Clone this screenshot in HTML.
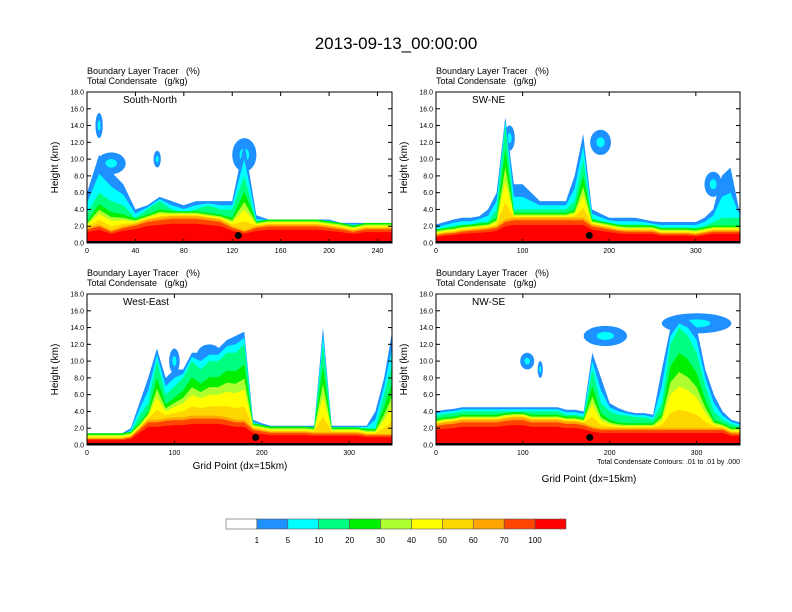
<!DOCTYPE html>
<html><head><meta charset="utf-8"><style>
body{margin:0;background:#fff}
svg{display:block;font-family:"Liberation Sans",sans-serif}
text{white-space:pre}
</style></head><body>
<svg id="c" width="792" height="612" viewBox="0 0 792 612">
<text x="396" y="49" font-size="17" text-anchor="middle">2013-09-13_00:00:00</text>
</svg>
<script>
const NS="http://www.w3.org/2000/svg";
const svg=document.getElementById('c');
const colors=["#ffffff","#1e90ff","#00ffff","#00ff80","#00ee00","#adff2f","#ffff00","#ffd700","#ffa500","#ff4500","#ff0000"];
const cbLabels=["1","5","10","20","30","40","50","60","70","100"];
const yTicks=[0,2,4,6,8,10,12,14,16,18];
const panelNames=["South-North","SW-NE","West-East","NW-SE"];
const xMaxes=[252,351,349,350];
const xTickSets=[[0,40,80,120,160,200,240],[0,100,200,300],[0,100,200,300],[0,100,200,300]];
const markerX=[125,177,193,177];
const red1=[1.8,2.2,1.5,2,2.3,2.8,3,3.2,3.2,3.2,3,2.8,2,1.5,2,2.2,2.2,2.2,2.2,2.2,2,1.8,1.5,1.8,1.8,1.8];
const green1=[3.5,6,5,4.5,3,4,5,4,3.6,4,4.5,4,4,8,2.4,2.6,2.6,2.5,2.5,2.5,2.5,2.2,2,2.2,2.2,2.2];
const blue1=[6,10.5,8.5,7,4,4.5,5.5,5,4.5,5,5,5,5,12,3.3,2.8,2.8,2.8,2.8,2.8,2.8,2.4,2.4,2.4,2.3,2.3];
const red2=[1,1.2,1.3,1.5,1.6,1.7,1.8,2,2.8,3,3,3,3,3,3,3,3,3,2.2,2,1.8,1.6,1.5,1.5,1.5,1.5,1.2,1.2,1.2,1.2,1.1,1.3,1.5,1.5,1.5,1.5];
const green2=[1.5,1.8,2,2.2,2.2,2.5,2.5,4,14,4,4,4,4,4,4,4,5,10,3,2.6,2.4,2.2,2.2,2.2,2.2,2,1.8,1.8,1.8,1.8,1.8,2,2.5,3,3,3];
const blue2=[2.2,2.5,2.8,3,3,3.2,4,6,15,7,7,6,5,5,5,5,8,13,4,3.5,3,3,3,3,2.8,2.6,2.5,2.5,2.5,2.5,2.5,3,4,8,9,4];
const red3=[0.8,0.8,0.8,0.8,0.8,1,2,3,3,3.2,3.3,3.3,3.5,3.5,3.5,3.5,3.3,3,3,2,1.8,1.6,1.6,1.6,1.6,1.6,1.5,1.5,1.5,1.5,1.5,1.5,1.3,1.3,1.3,1.3];
const green3=[1,1,1,1,1,1.5,3.5,5,10,6,7,8,10,9,10,10,11,11,12,2.5,2.2,2,2,2,2,2,2,12,2,2,2,2,2,2,6,10];
const blue3=[1.4,1.4,1.4,1.4,1.4,2,5,8,11.5,8,9,9,11,11,11.5,11.5,12.5,13,13.5,3,2.6,2.3,2.3,2.3,2.3,2.3,2.3,14,2.3,2.3,2.3,2.3,2.3,4,8,14];
const red4=[2.5,2.7,2.8,3,3,3,3,3,3.2,3.3,3.3,3,3,3,3,2.8,2.8,2.6,2.2,2,2,2,2,2,2,2,2,2,2,2,2,2,2,2,1.5,1.5];
const green4=[3.5,3.7,3.8,4,4,4,4,4,4,4,4,4,4,4,4,3.6,3.6,3.4,9,5,4,3.6,3.5,3.3,3.3,3,5,12,14,13,11,7,4,3,2.5,2.2];
const blue4=[4,4.2,4.3,4.5,4.5,4.5,4.5,4.5,4.5,4.5,4.5,4.5,4.5,4.5,4.5,4.2,4.2,4,11,8,5,4.4,4,3.8,3.8,3.6,9,14,15,15,14,9,6,4,3,2.7];
const reds=[red1,red2,red3,red4],greens=[green1,green2,green3,green4],blues=[blue1,blue2,blue3,blue4];
const cloudX=[[20,10,58,130],[85,190,320],[140,100,370],[105,120,195,300]];
const cloudY=[[9.5,14,10,10.5],[12.5,12,7],[10.5,10,14],[10,9,13,14.5]];
const cloudW=[[12,3,3,10],[6,12,10],[15,6,8],[8,3,25,40]];
const cloudH=[[1.3,1.5,1,2],[1.5,1.5,1.5],[1.5,1.5,1.2],[1,1,1.2,1.2]];

function el(tag,attrs,parent,name,inter){const e=document.createElementNS(NS,tag);for(const k in attrs)e.setAttribute(k,attrs[k]);


(parent||svg).appendChild(e);return e;}
function txt(x,y,s,size,anchor,name,extra){const t=el('text',Object.assign({x:x,y:y,'font-size':size,'text-anchor':anchor||'start'},extra||{}),svg,name,false);t.textContent=s;return t;}

const boxes=[[87,92,392,243],[436,92,740,243],[87,294,392,445],[436,294,740,445]];
boxes.forEach((b,p)=>{
  const [x0,y0,x1,y1]=b,W=x1-x0,H=y1-y0,xm=xMaxes[p];
  const sx=v=>x0+v/xm*W, sy=h=>y1-h/18*H;
  const g=el('g',{},svg,'panel-'+panelNames[p].toLowerCase(),false);
  const clip=el('clipPath',{id:'cl'+p},g,'clip',false);
  el('rect',{x:x0,y:y0,width:W,height:H},clip,'clip-rect',false);
  const plot=el('g',{'clip-path':'url(#cl'+p+')'},g,'plot-area',false);
  const r=reds[p],gr=greens[p],bl=blues[p];
  const xs=r.map((_,i)=>i*10);
  function area(tops,col,name){let d='M'+sx(0)+','+y1;tops.forEach((t,i)=>{d+=' L'+sx(xs[i]).toFixed(1)+','+sy(Math.max(0,t)).toFixed(1);});d+=' L'+sx(xs[xs.length-1]+10)+','+sy(tops[tops.length-1])+' L'+x1+','+y1+'Z';el('path',{d:d,fill:col},plot,name,false);}
  cloudX[p].forEach((cx,i)=>{
    el('ellipse',{cx:sx(cx),cy:sy(cloudY[p][i]),rx:cloudW[p][i]/xm*W,ry:cloudH[p][i]/18*H,fill:colors[1]},plot,'cloud-blob',false);
    el('ellipse',{cx:sx(cx),cy:sy(cloudY[p][i]),rx:cloudW[p][i]/xm*W*0.4,ry:cloudH[p][i]/18*H*0.4,fill:colors[2]},plot,'cloud-core',false);
  });
  const conv=i=>Math.max(0,gr[i]-r[i]-1.5);
  area(bl,colors[1],'band-1-5');
  area(bl.map((v,i)=>Math.max(gr[i],(v+gr[i])/2)),colors[2],'band-5-10');
  area(gr,colors[3],'band-10-20');
  area(r.map((v,i)=>v+0.6+conv(i)*0.8),colors[4],'band-20-30');
  area(r.map((v,i)=>v+0.4+conv(i)*0.6),colors[5],'band-30-40');
  area(r.map((v,i)=>v+0.25+conv(i)*0.45),colors[6],'band-40-50');
  area(r.map((v,i)=>v+0.1+conv(i)*0.2),colors[7],'band-50-60');
  area(r,colors[8],'band-60-70');
  area(r.map(v=>v*0.9),colors[9],'band-70-100');
  area(r.map(v=>v*0.72),colors[10],'band-100');
  el('rect',{x:x0,y:y1-2,width:W,height:2,fill:'#000'},plot,'terrain',false);
  el('circle',{cx:sx(markerX[p]),cy:sy(0.9),r:3.5,fill:'#000'},plot,'location-marker',false);
  el('rect',{x:x0,y:y0,width:W,height:H,fill:'none',stroke:'#000','stroke-width':1},g,'plot-frame',false);
  yTicks.forEach(t=>{const y=sy(t);
    el('line',{x1:x0,x2:x0+4,y1:y,y2:y,stroke:'#000'},g,'y-tick',false);
    el('line',{x1:x1,x2:x1-4,y1:y,y2:y,stroke:'#000'},g,'y-tick-right',false);
    txt(x0-3,y+2.5,t.toFixed(1),7,'end','y-tick-label');});
  xTickSets[p].forEach(t=>{const x=sx(t);
    el('line',{x1:x,x2:x,y1:y1,y2:y1-4,stroke:'#000'},g,'x-tick',false);
    el('line',{x1:x,x2:x,y1:y0,y2:y0+4,stroke:'#000'},g,'x-tick-top',false);
    txt(x,y1+10,String(t),7,'middle','x-tick-label');});
  txt(x0,y0-18,'Boundary Layer Tracer   (%)',9,'start','tracer-subtitle');
  txt(x0,y0-8,'Total Condensate   (g/kg)',9,'start','condensate-subtitle');
  txt(x0+36,y0+11,panelNames[p],10,'start','panel-label');
  txt(0,0,'Height (km)',10,'middle','y-axis-title',{transform:'translate('+(x0-29)+','+(y0+H/2)+') rotate(-90)'});
});
txt(240,469,'Grid Point (dx=15km)',10,'middle','x-axis-title-left');
txt(589,482,'Grid Point (dx=15km)',10,'middle','x-axis-title-right');
txt(740,464,'Total Condensate Contours: .01 to .01 by .000',7,'end','contour-info');
const cb=el('g',{},svg,'colorbar',false);
const cbx=226,cbw=340/11;
colors.forEach((c,i)=>{el('rect',{x:cbx+i*cbw,y:519,width:cbw,height:10,fill:c,stroke:'#555','stroke-width':0.6},cb,'colorbar-box',false);});
cbLabels.forEach((l,i)=>txt(cbx+(i+1)*cbw,543,l,8,'middle','colorbar-label'));
</script>
</body></html>
